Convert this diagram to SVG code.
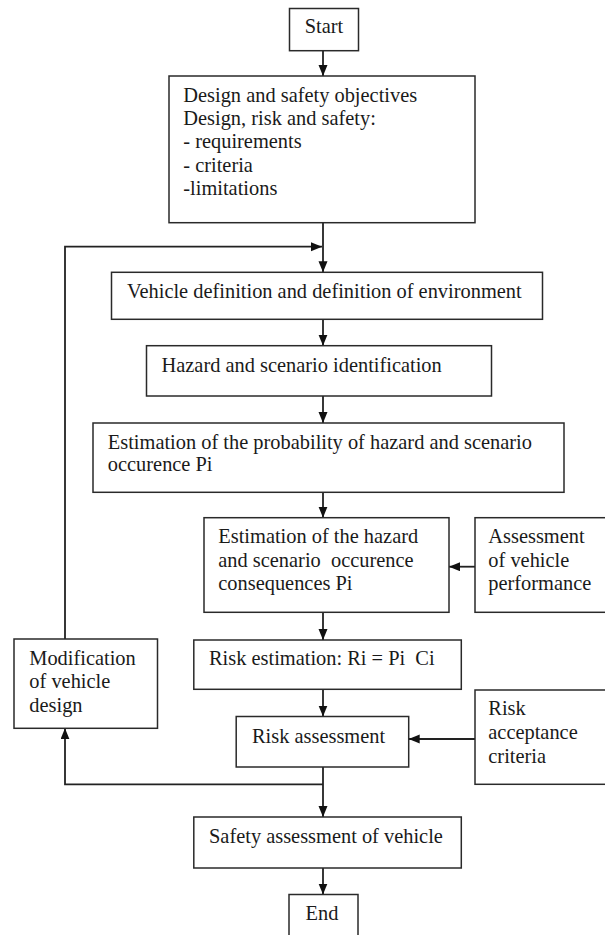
<svg xmlns="http://www.w3.org/2000/svg" width="605" height="935" viewBox="0 0 605 935">
<style>
  .box { fill: #ffffff; stroke: #2a2a2a; stroke-width: 1.5; }
  .lbl { font-size: 20.4px; fill: #1a1a1a; white-space: pre; }
  .mid { text-anchor: middle; }
  .conn { fill: none; stroke: #222222; stroke-width: 1.8; }
</style>
<defs>
  <marker id="ah" markerWidth="12" markerHeight="10" refX="11" refY="4.5" orient="auto" markerUnits="userSpaceOnUse">
    <path d="M0,0 L11,4.5 L0,9 Z" fill="#111111"/>
  </marker>
</defs>
<rect width="605" height="935" fill="#ffffff"/>

<g id="connectors">
  <line class="conn" x1="323" y1="50.7" x2="323" y2="76" marker-end="url(#ah)"/>
  <line class="conn" x1="323" y1="222.7" x2="323" y2="272.3" marker-end="url(#ah)"/>
  <polyline class="conn" points="65,639 65,246.7 322,246.7" marker-end="url(#ah)"/>
  <line class="conn" x1="323" y1="319.3" x2="323" y2="345.7" marker-end="url(#ah)"/>
  <line class="conn" x1="323" y1="396" x2="323" y2="423" marker-end="url(#ah)"/>
  <line class="conn" x1="323" y1="492.3" x2="323" y2="517.7" marker-end="url(#ah)"/>
  <line class="conn" x1="475" y1="566.7" x2="449" y2="566.7" marker-end="url(#ah)"/>
  <line class="conn" x1="323" y1="612.3" x2="323" y2="640" marker-end="url(#ah)"/>
  <line class="conn" x1="323" y1="689.3" x2="323" y2="716.5" marker-end="url(#ah)"/>
  <line class="conn" x1="475" y1="739" x2="408.7" y2="739" marker-end="url(#ah)"/>
  <line class="conn" x1="323" y1="767" x2="323" y2="817" marker-end="url(#ah)"/>
  <polyline class="conn" points="323,784.3 65,784.3 65,728.3" marker-end="url(#ah)"/>
  <line class="conn" x1="323" y1="868" x2="323" y2="894.5" marker-end="url(#ah)"/>
</g>

<g font-family="'Liberation Serif', Tinos, 'Times New Roman', 'DejaVu Serif', serif">
<g id="start">
  <rect class="box" x="289.5" y="8.5" width="69" height="42.2"/>
  <text class="lbl mid" x="324" y="33.3">Start</text>
</g>

<g id="objectives">
  <rect class="box" x="169" y="76" width="306" height="146.7"/>
  <text class="lbl" x="183.3" y="101.7">Design and safety objectives</text>
  <text class="lbl" x="183.3" y="125">Design, risk and safety:</text>
  <text class="lbl" x="183.3" y="148.3">- requirements</text>
  <text class="lbl" x="183.3" y="171.7">- criteria</text>
  <text class="lbl" x="183.3" y="195">-limitations</text>
</g>

<g id="vehicle-definition">
  <rect class="box" x="111.5" y="272.3" width="431" height="47"/>
  <text class="lbl" x="127" y="298.3">Vehicle definition and definition of environment</text>
</g>

<g id="hazard-identification">
  <rect class="box" x="146.5" y="345.7" width="345" height="50.3"/>
  <text class="lbl" x="161.5" y="371.7">Hazard and scenario identification</text>
</g>

<g id="probability-estimation">
  <rect class="box" x="93" y="423" width="471" height="69.3"/>
  <text class="lbl" x="107.8" y="448.5">Estimation of the probability of hazard and scenario</text>
  <text class="lbl" x="107.8" y="471">occurence Pi</text>
</g>

<g id="consequence-estimation">
  <rect class="box" x="204" y="517.7" width="245" height="94.6"/>
  <text class="lbl" x="218.3" y="543">Estimation of the hazard</text>
  <text class="lbl" x="218.3" y="566.5">and scenario  occurence</text>
  <text class="lbl" x="218.3" y="590">consequences Pi</text>
</g>

<g id="vehicle-performance">
  <rect class="box" x="475" y="517.7" width="140" height="94.6"/>
  <text class="lbl" x="488.3" y="543">Assessment</text>
  <text class="lbl" x="488.3" y="566.5">of vehicle</text>
  <text class="lbl" x="488.3" y="590">performance</text>
</g>

<g id="risk-estimation">
  <rect class="box" x="193.8" y="640" width="267.5" height="49.3"/>
  <text class="lbl" x="209" y="665">Risk estimation: Ri = Pi  Ci</text>
</g>

<g id="modification">
  <rect class="box" x="14" y="639" width="143.5" height="89.3"/>
  <text class="lbl" x="29.3" y="665">Modification</text>
  <text class="lbl" x="29.3" y="688.3">of vehicle</text>
  <text class="lbl" x="29.3" y="711.6">design</text>
</g>

<g id="risk-acceptance">
  <rect class="box" x="475" y="690" width="140" height="94.3"/>
  <text class="lbl" x="488.3" y="715.3">Risk</text>
  <text class="lbl" x="488.3" y="739">acceptance</text>
  <text class="lbl" x="488.3" y="762.7">criteria</text>
</g>

<g id="risk-assessment">
  <rect class="box" x="236.2" y="716.5" width="172.5" height="50.5"/>
  <text class="lbl" x="252" y="743.3">Risk assessment</text>
</g>

<g id="safety-assessment">
  <rect class="box" x="193.8" y="817" width="267.5" height="51"/>
  <text class="lbl" x="209" y="843.3">Safety assessment of vehicle</text>
</g>

<g id="end">
  <rect class="box" x="289" y="894.5" width="69" height="50"/>
  <text class="lbl mid" x="322" y="920">End</text>
</g>
</g>
</svg>
